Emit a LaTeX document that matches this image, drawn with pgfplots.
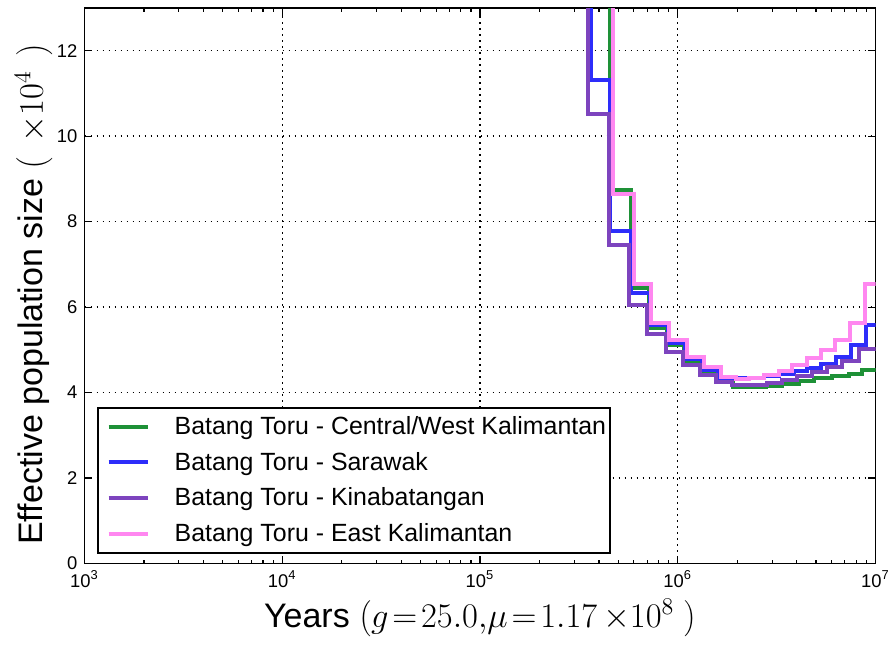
\documentclass[border=0pt]{standalone}
\usepackage[no-math]{fontspec}
\setmainfont{Liberation Sans}
\usepackage{pgfplots}
\pgfplotsset{compat=1.18}
\definecolor{cgreen}{RGB}{30,145,55}
\definecolor{cblue}{RGB}{45,45,250}
\definecolor{cpurple}{RGB}{125,68,190}
\definecolor{cpink}{RGB}{255,135,240}
\begin{document}
\begin{tikzpicture}
\begin{axis}[
  scale only axis,
  width=395.5pt, height=277.75pt,
  xmode=log, xmin=1e3, xmax=1e7,
  ymin=0, ymax=13,
  xtick={1e3,1e4,1e5,1e6,1e7},
  xticklabels={10\textsuperscript{3},10\textsuperscript{4},10\textsuperscript{5},10\textsuperscript{6},10\textsuperscript{7}},
  ytick={0,2,4,6,8,10,12},
  yticklabel style={/pgf/number format/assume math mode=true},
  tick label style={font=\fontsize{9.2}{11}\selectfont},
  grid=major,
  major grid style={black, line width=0.7pt, dash pattern=on 0.7pt off 2.3pt},
  axis line style={line width=0.9pt},
  major tick length=4pt, minor tick length=2pt,
  every tick/.style={black, line width=0.6pt},
  tick align=inside,
  xlabel={Years $\left(g\!=\!25.0,\!\mu\!=\!1.17\,{\times}10^{8}\;\right)$},
  ylabel={Effective population size $\left(\;\,{\times}10^{4}\;\,\right)$},
  every axis x label/.style={at={(axis description cs:0.5,-0.1143)}, anchor=base, font=\fontsize{17}{20}\selectfont},
  every axis y label/.style={at={(axis description cs:-0.0525,0.485)}, anchor=base, rotate=90, font=\fontsize{17}{20}\selectfont},
  legend cell align=left,
  legend image code/.code={\path[draw=none,fill=none] (0pt,0pt) -- (25pt,0pt); \draw[#1] (5.5pt,0pt) -- (25pt,0pt);},
  legend style={at={(0.0155,0.0175)}, anchor=south west, draw=black, line width=0.9pt,
     font=\fontsize{12.45}{15}\selectfont, inner xsep=0pt, inner ysep=2.3pt,
     nodes={inner xsep=2pt}, row sep=3.3pt,
     /tikz/every odd column/.append style={column sep=10.5pt}},
  every axis plot/.append style={line width=2pt, const plot},
]
\addplot[cgreen] coordinates {
(1e5,20) (456900,8.73) (577300,6.44) (712500,5.50) (879500,5.12) (1072700,4.75)
(1308400,4.48) (1577600,4.29) (1901700,4.12) (2797100,4.15) (3372000,4.20)
(4114100,4.27) (4901800,4.33) (6049600,4.39) (7379000,4.44) (8590100,4.52) (1e7,4.52)};
\addlegendentry{Batang Toru - Central/West Kalimantan}
\addplot[cblue] coordinates {
(1e5,20) (366000,11.32) (456900,7.77) (577300,6.32) (720900,5.58) (889700,5.17)
(1085300,4.78) (1323600,4.54) (1595900,4.35) (1924200,4.33) (2732200,4.38)
(3256000,4.44) (3880500,4.50) (4515900,4.58) (5320000,4.68) (6338700,4.84)
(7554000,5.11) (9000400,5.57) (1e7,5.57)};
\addlegendentry{Batang Toru - Sarawak}
\addplot[cpurple] coordinates {
(1e5,20) (353300,10.52) (451600,7.45) (564000,6.05) (696000,5.37) (869200,4.95)
(1060000,4.64) (1293100,4.42) (1559200,4.25) (1879500,4.17) (2830100,4.22)
(3372000,4.30) (4019300,4.38) (4788000,4.48) (5705500,4.60) (6801800,4.74)
(8294200,5.01) (1e7,5.01)};
\addlegendentry{Batang Toru - Kinabatangan}
\addplot[cpink] coordinates {
(1e5,20) (467700,8.65) (597900,6.55) (729400,5.64) (900100,5.23) (1111000,4.84)
(1355200,4.59) (1653100,4.37) (1969600,4.31) (2293000,4.33) (2732200,4.42)
(3256000,4.51) (3791200,4.64) (4515900,4.80) (5320000,4.99) (6266100,5.22)
(7466000,5.62) (8895700,6.55) (1e7,6.55)};
\addlegendentry{Batang Toru - East Kalimantan}
\end{axis}
\pgfresetboundingbox
\path[use as bounding box] ([shift={(-42.25pt,-40.25pt)}]current axis.south west) rectangle ([shift={(6.25pt,4pt)}]current axis.north east);
\end{tikzpicture}
\end{document}
